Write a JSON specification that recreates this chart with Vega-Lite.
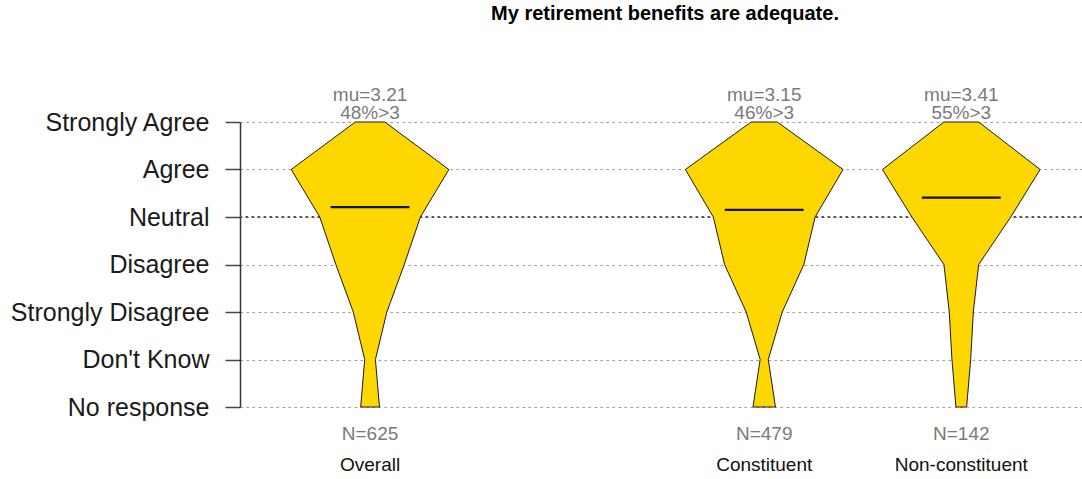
{
  "$schema": "https://vega.github.io/schema/vega-lite/v6.json",
  "width": 842,
  "height": 285,
  "autosize": {"type": "none"},
  "padding": {"left": 240, "top": 122, "right": 0, "bottom": 72},
  "background": "white",
  "config": {"view": {"stroke": null}, "font": "Liberation Sans"},
  "title": {"text": "My retirement benefits are adequate.", "fontSize": 20, "fontWeight": "bold", "color": "#000000", "anchor": "middle", "frame": "group", "offset": 62, "dx": 4, "font": "Liberation Sans"},
  "datasets": {
    "dist": [
      {"group": "Overall", "pos": 1, "level": 5, "n": 44},
      {"group": "Overall", "pos": 1, "level": 4, "n": 235},
      {"group": "Overall", "pos": 1, "level": 3, "n": 150},
      {"group": "Overall", "pos": 1, "level": 2, "n": 102},
      {"group": "Overall", "pos": 1, "level": 1, "n": 50},
      {"group": "Overall", "pos": 1, "level": 0, "n": 16},
      {"group": "Overall", "pos": 1, "level": -1, "n": 28},
      {"group": "Constituent", "pos": 3, "level": 5, "n": 29},
      {"group": "Constituent", "pos": 3, "level": 4, "n": 175},
      {"group": "Constituent", "pos": 3, "level": 3, "n": 113},
      {"group": "Constituent", "pos": 3, "level": 2, "n": 88},
      {"group": "Constituent", "pos": 3, "level": 1, "n": 40},
      {"group": "Constituent", "pos": 3, "level": 0, "n": 9},
      {"group": "Constituent", "pos": 3, "level": -1, "n": 25},
      {"group": "Non-constituent", "pos": 4, "level": 5, "n": 13},
      {"group": "Non-constituent", "pos": 4, "level": 4, "n": 59},
      {"group": "Non-constituent", "pos": 4, "level": 3, "n": 37},
      {"group": "Non-constituent", "pos": 4, "level": 2, "n": 13},
      {"group": "Non-constituent", "pos": 4, "level": 1, "n": 9},
      {"group": "Non-constituent", "pos": 4, "level": 0, "n": 7},
      {"group": "Non-constituent", "pos": 4, "level": -1, "n": 4}
    ],
    "summary": [
      {"group": "Overall", "pos": 1, "mu": 3.21, "above": 48, "N": 625},
      {"group": "Constituent", "pos": 3, "mu": 3.15, "above": 46, "N": 479},
      {"group": "Non-constituent", "pos": 4, "mu": 3.41, "above": 55, "N": 142}
    ]
  },
  "layer": [
    {
      "data": {"values": [{"level": 3}]},
      "mark": {"type": "rule", "color": "#555555", "strokeWidth": 1.8, "strokeDash": [2.5, 3.5]},
      "encoding": {
        "y": {
          "field": "level", "type": "quantitative",
          "scale": {"domain": [-1, 5], "nice": false, "zero": false},
          "axis": {
            "title": null,
            "values": [-1, 0, 1, 2, 3, 4, 5],
            "labelExpr": "[\"No response\",\"Don't Know\",\"Strongly Disagree\",\"Disagree\",\"Neutral\",\"Agree\",\"Strongly Agree\"][datum.value + 1]",
            "labelFontSize": 25,
            "labelFont": "Liberation Sans",
            "labelColor": "#1a1a1a",
            "labelLimit": 400,
            "labelPadding": 16,
            "tickSize": 15,
            "tickColor": "#444444",
            "tickWidth": 1.5,
            "domainColor": "#333333",
            "domainWidth": 1.5,
            "grid": true,
            "gridDash": [2.5, 3.5],
            "gridColor": "#9a9a9a",
            "gridWidth": 1
          }
        }
      }
    },
    {
      "data": {"name": "dist"},
      "transform": [
        {"joinaggregate": [{"op": "max", "field": "n", "as": "maxn"}], "groupby": ["group"]},
        {"calculate": "datum.pos - 0.4 * datum.n / datum.maxn", "as": "lo"},
        {"calculate": "datum.pos + 0.4 * datum.n / datum.maxn", "as": "hi"}
      ],
      "mark": {"type": "area", "orient": "horizontal", "fill": "#FFD700", "fillOpacity": 1, "stroke": "#1a1a1a", "strokeWidth": 1},
      "encoding": {
        "y": {"field": "level", "type": "quantitative", "title": null},
        "x": {"field": "lo", "type": "quantitative", "scale": {"domain": [0.34, 4.6125], "nice": false, "zero": false}, "axis": null},
        "x2": {"field": "hi"},
        "detail": {"field": "group"}
      }
    },
    {
      "data": {"name": "summary"},
      "transform": [
        {"calculate": "datum.pos - 0.2", "as": "a"},
        {"calculate": "datum.pos + 0.2", "as": "b"}
      ],
      "mark": {"type": "rule", "color": "#111111", "strokeWidth": 2.2},
      "encoding": {
        "y": {"field": "mu", "type": "quantitative", "title": null},
        "x": {"field": "a", "type": "quantitative", "axis": null},
        "x2": {"field": "b"}
      }
    },
    {
      "data": {"name": "summary"},
      "transform": [{"calculate": "'mu=' + format(datum.mu, '.2f')", "as": "mulabel"}],
      "mark": {"type": "text", "baseline": "alphabetic", "align": "center", "fontSize": 19, "color": "#7a7a7a", "dy": -21.3},
      "encoding": {
        "x": {"field": "pos", "type": "quantitative", "axis": null},
        "y": {"datum": 5},
        "text": {"field": "mulabel"}
      }
    },
    {
      "data": {"name": "summary"},
      "transform": [{"calculate": "datum.above + '%>3'", "as": "pctlabel"}],
      "mark": {"type": "text", "baseline": "alphabetic", "align": "center", "fontSize": 19, "color": "#7a7a7a", "dy": -2.7},
      "encoding": {
        "x": {"field": "pos", "type": "quantitative", "axis": null},
        "y": {"datum": 5},
        "text": {"field": "pctlabel"}
      }
    },
    {
      "data": {"name": "summary"},
      "transform": [{"calculate": "'N=' + datum.N", "as": "nlabel"}],
      "mark": {"type": "text", "baseline": "alphabetic", "align": "center", "fontSize": 19, "color": "#7a7a7a", "dy": 33},
      "encoding": {
        "x": {"field": "pos", "type": "quantitative", "axis": null},
        "y": {"datum": -1},
        "text": {"field": "nlabel"}
      }
    },
    {
      "data": {"name": "summary"},
      "mark": {"type": "text", "baseline": "alphabetic", "align": "center", "fontSize": 19, "color": "#111111", "dy": 63.7},
      "encoding": {
        "x": {"field": "pos", "type": "quantitative", "axis": null},
        "y": {"datum": -1},
        "text": {"field": "group"}
      }
    }
  ]
}
